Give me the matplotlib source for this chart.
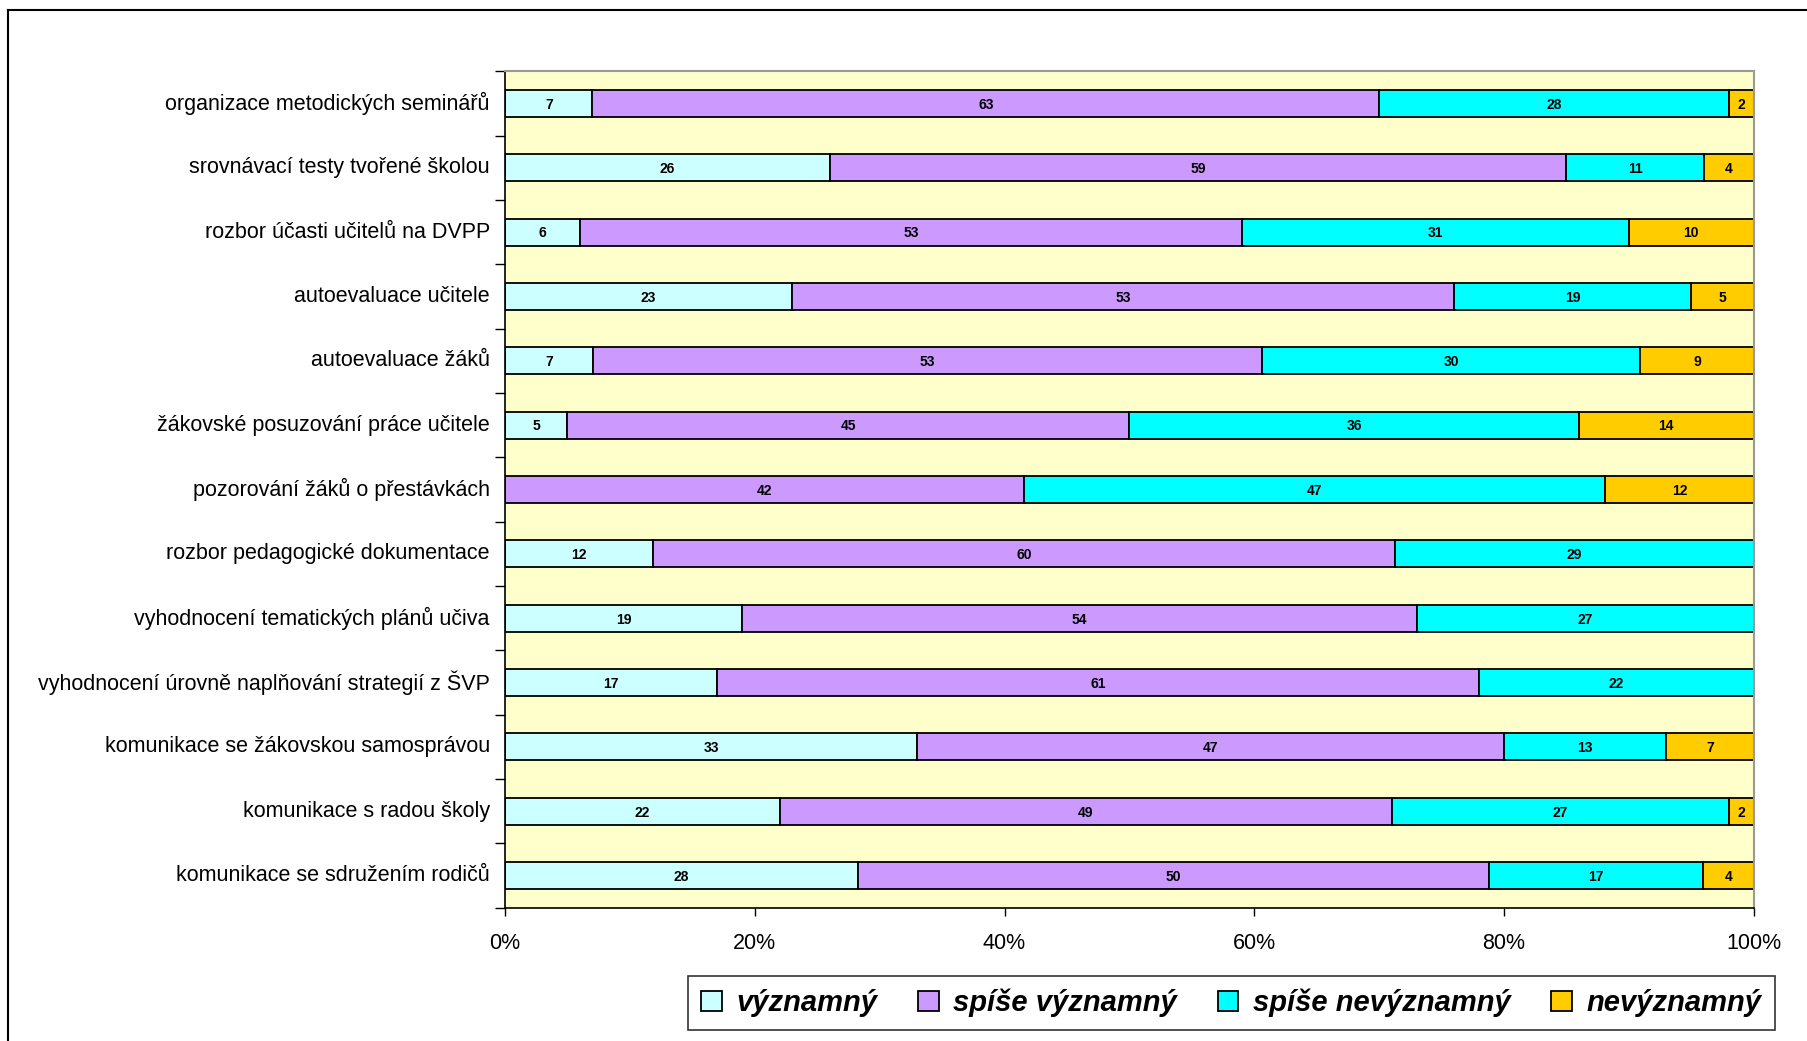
import numpy as np
import matplotlib.pyplot as plt
from matplotlib.lines import Line2D
from matplotlib.ticker import FixedLocator, PercentFormatter

plt.rcParams['font.family'] = ['Liberation Sans', 'DejaVu Sans']

categories = [
    'organizace metodických seminářů',
    'srovnávací testy tvořené školou',
    'rozbor účasti učitelů na DVPP',
    'autoevaluace učitele',
    'autoevaluace žáků',
    'žákovské posuzování práce učitele',
    'pozorování žáků o přestávkách',
    'rozbor pedagogické dokumentace',
    'vyhodnocení tematických plánů učiva',
    'vyhodnocení úrovně naplňování strategií z ŠVP',
    'komunikace se žákovskou samosprávou',
    'komunikace s radou školy',
    'komunikace se sdružením rodičů',
]
series = ['významný', 'spíše významný', 'spíše nevýznamný', 'nevýznamný']
vyznamny = [7, 26, 6, 23, 7, 5, 0, 12, 19, 17, 33, 22, 28]
spise_vyznamny = [63, 59, 53, 53, 53, 45, 42, 60, 54, 61, 47, 49, 50]
spise_nevyznamny = [28, 11, 31, 19, 30, 36, 47, 29, 27, 22, 13, 27, 17]
nevyznamny = [2, 4, 10, 5, 9, 14, 12, 0, 0, 0, 7, 2, 4]
colors = ['#CCFFFF', '#CC99FF', '#00FFFF', '#FFCC00']

vals = np.array([vyznamny, spise_vyznamny, spise_nevyznamny, nevyznamny], dtype=float)
shares = vals / vals.sum(axis=0) * 100

fig = plt.figure(figsize=(18.07, 10.41), dpi=100)
ax = fig.add_axes([0.2795, 0.128, 0.691, 0.8035])
ax.set_facecolor('#FFFFCC')

y = np.arange(len(categories))
left = np.zeros(len(categories))
for k in range(4):
    ax.barh(y, shares[k], left=left, height=0.42, color=colors[k],
            edgecolor='black', linewidth=1.3, label=series[k])
    for i in range(len(categories)):
        if vals[k, i] > 0:
            ax.text(left[i] + shares[k, i] / 2, y[i] + 0.02, '%d' % vals[k, i],
                    ha='center', va='center', fontsize=10, fontweight='bold')
    left += shares[k]

ax.set_xlim(0, 100)
ax.set_ylim(len(categories) - 0.5, -0.5)
ax.xaxis.set_major_locator(FixedLocator([0, 20, 40, 60, 80, 100]))
ax.xaxis.set_major_formatter(PercentFormatter(decimals=0))
ax.tick_params(axis='x', length=6, width=1, pad=12, labelsize=15.5)

ax.set_yticks(y - 0.04)
ax.set_yticklabels(categories, fontsize=15.5)
ax.tick_params(axis='y', which='major', length=0, pad=11)
ax.yaxis.set_minor_locator(FixedLocator(np.arange(-0.5, len(categories), 1)))
ax.tick_params(axis='y', which='minor', length=7, width=1)

for s in ['left', 'bottom']:
    ax.spines[s].set_color('black')
    ax.spines[s].set_linewidth(1.2)
for s in ['top', 'right']:
    ax.spines[s].set_color('#999999')
    ax.spines[s].set_linewidth(1.5)

leg = fig.legend(loc='center', bbox_to_anchor=(0.6815, 0.0365), ncol=4,
                 prop={'size': 21, 'weight': 'bold', 'style': 'italic'},
                 frameon=True, fancybox=False, edgecolor='black',
                 handlelength=0.7, handleheight=0.7, handletextpad=0.5,
                 columnspacing=1.4, borderpad=0.45)
leg.get_frame().set_linewidth(1.2)

# outer chart frame
fig.add_artist(Line2D([0.0044, 0.0044], [0, 0.9904], color='black', lw=1.5,
                      transform=fig.transFigure))
fig.add_artist(Line2D([0.0044, 1], [0.9904, 0.9904], color='black', lw=1.5,
                      transform=fig.transFigure))

fig.savefig('out.png', dpi=100)
